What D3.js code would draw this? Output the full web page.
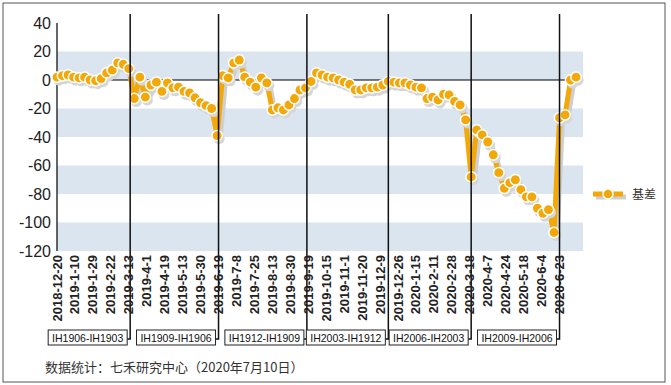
<!DOCTYPE html>
<html>
<head>
<meta charset="utf-8">
<script src="https://cdn.jsdelivr.net/npm/d3@7"></script>
<style>
  body { margin: 0; background: #fff; }
  svg { display: block; }
</style>
</head>
<body>
<svg id="chart" width="671" height="385"></svg>
<script>
// basis (IH spot-futures spread), one reading every 4 trading days from 2018-12-20
var sampleStep = 4;
var basis = [
  2, 3, 3.5, 2, 1.5, 2, 0, -0.5, 1, 5,
  7, 12, 11, 8, -13, 2, -12, -3.5, -1.5, -8,
  -2, -5.5, -5, -8, -9, -12.5, -16, -18, -20, -39,
  3, 1.5, 12, 14, 2, -1.5, -5, 1.5, -2, -21,
  -19.5, -21, -17.5, -13, -7, -5.5, -1, 5, 3.5, 2,
  1.5, 0, -1.5, -3, -7, -7, -5.5, -5.5, -5, -3.5,
  -1, -1.5, -2, -2, -3.5, -5, -5.5, -13, -12, -14,
  -10, -10.5, -15, -17.5, -28, -68, -35, -38.5, -43.5, -52.5,
  -65, -76, -72, -70, -77, -82, -82, -90, -93.5, -91,
  -107, -26.5, -24.5, 0, 2
];

// category labels, every 13th trading day
var labelStep = 13;
var dateLabels = [
  "2018-12-20", "2019-1-10", "2019-1-29", "2019-2-22", "2019-3-13",
  "2019-4-1", "2019-4-19", "2019-5-13", "2019-5-30", "2019-6-19",
  "2019-7-8", "2019-7-25", "2019-8-13", "2019-8-30", "2019-9-19",
  "2019-10-15", "2019-11-1", "2019-11-20", "2019-12-9", "2019-12-26",
  "2020-1-15", "2020-2-11", "2020-2-28", "2020-3-18", "2020-4-7",
  "2020-4-24", "2020-5-18", "2020-6-4", "2020-6-23"
];

// contract roll days (trading-day index) and the spread names
var rollDays = [53, 117, 181, 240, 300, 364];
var rollNames = ["IH1906-IH1903", "IH1909-IH1906", "IH1912-IH1909",
                 "IH2003-IH1912", "IH2006-IH2003", "IH2009-IH2006"];

var yTicks = [40, 20, 0, -20, -40, -60, -80, -100, -120];
var bands = [[0, 20], [-40, -20], [-80, -60], [-120, -100]];

var orange = "#F3A80A";
var svg = d3.select("#chart");

//frame
svg.append("rect")
  .attr("x", 3).attr("y", 3).attr("width", 662).attr("height", 379)
  .attr("fill", "#fff").attr("stroke", "#555").attr("stroke-width", 1);

var x = d3.scaleLinear().domain([0, 381]).range([57, 583]);
var y = d3.scaleLinear().domain([-120, 40]).range([251, 23]);

//bands
svg.append("g").selectAll("rect").data(bands).enter().append("rect")
  .attr("x", x(0))
  .attr("width", x(381) - x(0))
  .attr("y", d => y(d[1]))
  .attr("height", d => y(d[0]) - y(d[1]))
  .attr("fill", "#DAE5F0");

//y axis
svg.append("line")
  .attr("x1", x(0)).attr("x2", x(0))
  .attr("y1", y(40)).attr("y2", y(-120))
  .attr("stroke", "#000").attr("stroke-width", 1.2);

svg.append("g").selectAll("text").data(yTicks).enter().append("text")
  .attr("x", 51)
  .attr("y", d => y(d))
  .attr("dy", "0.36em")
  .attr("text-anchor", "end")
  .style("font", "16px 'Liberation Sans', Arial, sans-serif")
  .style("fill", "#222")
  .text(d => d);

//category axis at 0
svg.append("line")
  .attr("x1", x(0)).attr("x2", x(381))
  .attr("y1", y(0)).attr("y2", y(0))
  .attr("stroke", "#000").attr("stroke-width", 1.2);

//data
var pts = basis.map((v, i) => [i * sampleStep, v]);
var line = d3.line().x(d => x(d[0])).y(d => y(d[1]));

svg.append("path")
  .attr("d", line(pts))
  .attr("transform", "translate(3,3)")
  .attr("fill", "none").attr("stroke", "#cfcfcf")
  .attr("stroke-width", 5).attr("stroke-linejoin", "round");

svg.append("path")
  .attr("d", line(pts))
  .attr("fill", "none").attr("stroke", orange)
  .attr("stroke-width", 5).attr("stroke-linejoin", "round");

svg.append("g").selectAll("circle").data(pts).enter().append("circle")
  .attr("cx", d => x(d[0]) + 2)
  .attr("cy", d => y(d[1]) + 3)
  .attr("r", 5.5)
  .attr("fill", "#d6d6d6");

svg.append("g").selectAll("circle").data(pts).enter().append("circle")
  .attr("cx", d => x(d[0]))
  .attr("cy", d => y(d[1]))
  .attr("r", 5.2)
  .attr("fill", orange)
  .attr("stroke", "#fff").attr("stroke-width", 1.5);

//roll lines and their contract boxes
var rollG = svg.append("g");
rollDays.forEach(function(day, i) {
  let lx = x(day);
  let boxRight = lx - 3;
  rollG.append("path")
    .attr("d", "M" + lx + ",14V339H" + boxRight)
    .attr("fill", "none").attr("stroke", "#111").attr("stroke-width", 1.5);
});

//x labels
svg.append("g").selectAll("text").data(dateLabels).enter().append("text")
  .attr("transform", (d, i) => "translate(" + (x(i * labelStep) + 4.5) + ",255) rotate(-90)")
  .attr("text-anchor", "end")
  .style("font", "bold 13px 'Liberation Sans', Arial, sans-serif")
  .style("fill", "#222")
  .text(d => d);

rollDays.forEach(function(day, i) {
  let lx = x(day);
  let boxRight = lx - 3;
  let w = 79;
  rollG.append("rect")
    .attr("x", boxRight - w).attr("y", 330)
    .attr("width", w).attr("height", 15)
    .attr("fill", "#fff").attr("stroke", "#222").attr("stroke-width", 1);
  rollG.append("text")
    .attr("x", boxRight - w / 2).attr("y", 341.5)
    .attr("text-anchor", "middle")
    .style("font", "10.5px 'Liberation Sans', Arial, sans-serif")
    .style("fill", "#111")
    .text(rollNames[i]);
});

//legend
var lg = svg.append("g");
lg.append("line").attr("x1", 596).attr("x2", 626).attr("y1", 197).attr("y2", 197)
  .attr("stroke", "#cfcfcf").attr("stroke-width", 5);
lg.append("line").attr("x1", 593).attr("x2", 623).attr("y1", 194).attr("y2", 194)
  .attr("stroke", orange).attr("stroke-width", 5);
lg.append("circle").attr("cx", 608).attr("cy", 194).attr("r", 5)
  .attr("fill", orange).attr("stroke", "#fff").attr("stroke-width", 1.5);
lg.append("text").attr("x", 632).attr("y", 198.5)
  .style("font", "12px 'Noto Sans CJK SC', sans-serif")
  .style("fill", "#333")
  .text("基差");

//source note
svg.append("text")
  .attr("x", 45).attr("y", 371.5)
  .style("font", "13px 'Noto Sans CJK SC', sans-serif")
  .style("fill", "#333")
  .text("数据统计：七禾研究中心（2020年7月10日）");
</script>
</body>
</html>
